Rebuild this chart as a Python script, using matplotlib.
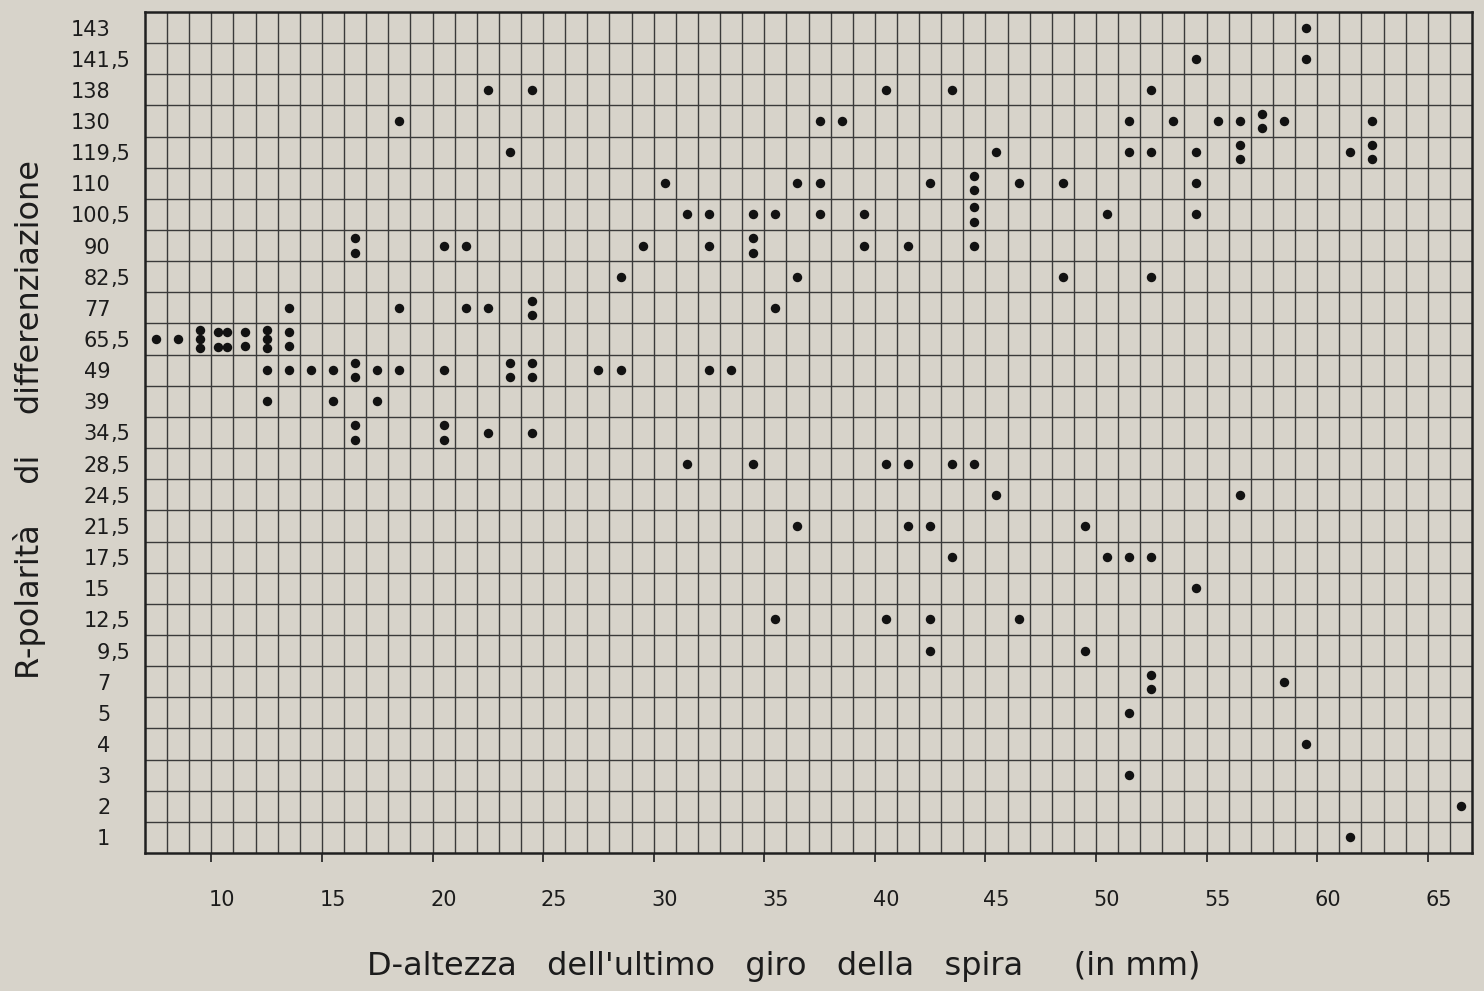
import matplotlib
matplotlib.use('Agg')
import matplotlib.pyplot as plt
from matplotlib.transforms import ScaledTranslation, blended_transform_factory

# categorie dell'asse R, dal basso verso l'alto
r_labels = ['1', '2', '3', '4', '5', '7', '9,5', '12,5', '15', '17,5', '21,5', '24,5',
            '28,5', '34,5', '39', '49', '65,5', '77', '82,5', '90', '100,5', '110',
            '119,5', '130', '138', '141,5', '143']

x_ticks = [10, 15, 20, 25, 30, 35, 40, 45, 50, 55, 60, 65]

# una voce per casella: valore R, colonna D (mm), numero di punti nella casella
dot_r = ['143',
         '141,5', '141,5',
         '138', '138', '138', '138', '138',
         '130', '130', '130', '130', '130', '130', '130', '130', '130', '130',
         '119,5', '119,5', '119,5', '119,5', '119,5', '119,5', '119,5', '119,5',
         '110', '110', '110', '110', '110', '110', '110', '110',
         '100,5', '100,5', '100,5', '100,5', '100,5', '100,5', '100,5', '100,5', '100,5',
         '90', '90', '90', '90', '90', '90', '90', '90', '90',
         '82,5', '82,5', '82,5', '82,5',
         '77', '77', '77', '77', '77', '77',
         '65,5', '65,5', '65,5', '65,5', '65,5', '65,5', '65,5',
         '49', '49', '49', '49', '49', '49', '49', '49', '49', '49', '49', '49', '49', '49',
         '39', '39', '39',
         '34,5', '34,5', '34,5', '34,5',
         '28,5', '28,5', '28,5', '28,5', '28,5', '28,5',
         '24,5', '24,5',
         '21,5', '21,5', '21,5', '21,5',
         '17,5', '17,5', '17,5', '17,5',
         '15',
         '12,5', '12,5', '12,5', '12,5',
         '9,5', '9,5',
         '7', '7',
         '5', '4', '3', '2', '1']
dot_mm = [59,
          54, 59,
          22, 24, 40, 43, 52,
          18, 37, 38, 51, 53, 55, 56, 57, 58, 62,
          23, 45, 51, 52, 54, 56, 61, 62,
          30, 36, 37, 42, 44, 46, 48, 54,
          31, 32, 34, 35, 37, 39, 44, 50, 54,
          16, 20, 21, 29, 32, 34, 39, 41, 44,
          28, 36, 48, 52,
          13, 18, 21, 22, 24, 35,
          7, 8, 9, 10, 11, 12, 13,
          12, 13, 14, 15, 16, 17, 18, 20, 23, 24, 27, 28, 32, 33,
          12, 15, 17,
          16, 20, 22, 24,
          31, 34, 40, 41, 43, 44,
          45, 56,
          36, 41, 42, 49,
          43, 50, 51, 52,
          54,
          35, 40, 42, 46,
          42, 49,
          52, 58,
          51, 59, 51, 66, 61]
dot_n = [1,
         1, 1,
         1, 1, 1, 1, 1,
         1, 1, 1, 1, 1, 1, 1, 2, 1, 1,
         1, 1, 1, 1, 1, 2, 1, 2,
         1, 1, 1, 1, 2, 1, 1, 1,
         1, 1, 1, 1, 1, 1, 2, 1, 1,
         2, 1, 1, 1, 1, 2, 1, 1, 1,
         1, 1, 1, 1,
         1, 1, 1, 1, 2, 1,
         1, 1, 3, 4, 2, 3, 2,
         1, 1, 1, 1, 2, 1, 1, 1, 2, 2, 1, 1, 1, 1,
         1, 1, 1,
         2, 2, 1, 1,
         1, 1, 1, 1, 1, 1,
         1, 1,
         1, 1, 1, 1,
         1, 1, 1, 1,
         1,
         1, 1, 1, 1,
         1, 1,
         2, 1,
         1, 1, 1, 1, 1]

bg = '#d7d3ca'
ink = '#1c1c1c'
grid_c = '#3a3a3a'

# disposizione dei punti dentro una casella
layout = {1: [(0, 0)],
          2: [(0, 0.23), (0, -0.23)],
          3: [(0, 0.3), (0, 0), (0, -0.3)],
          4: [(-0.21, 0.24), (0.21, 0.24), (-0.21, -0.24), (0.21, -0.24)]}

fig = plt.figure(figsize=(14.84, 9.91), dpi=100, facecolor=bg)
ax = fig.add_axes([145/1484, 1 - 853/991, (1472 - 145)/1484, (853 - 12)/991])
ax.set_facecolor(bg)

xs, ys = [], []
for r, mm, n in zip(dot_r, dot_mm, dot_n):
    row = r_labels.index(r)
    for dx, dy in layout[n]:
        xs.append(mm + 0.5 + dx)
        ys.append(row + dy)
ax.plot(xs, ys, 'o', ms=6.8, color='#121212', mew=0, zorder=3)

# quadrettatura
for x in range(8, 67):
    ax.axvline(x, color=grid_c, lw=1.0, zorder=1)
for y in range(len(r_labels) - 1):
    ax.axhline(y + 0.5, color=grid_c, lw=1.0, zorder=1)

ax.set_xlim(7, 67)
ax.set_ylim(-0.5, len(r_labels) - 0.5)
for s in ax.spines.values():
    s.set_linewidth(1.8)
    s.set_color('#202020')

ax.set_xticks(x_ticks)
ax.tick_params(axis='x', length=6.5, width=1.2, direction='out', pad=20,
               labelsize=15, colors=ink)
for lab in ax.get_xticklabels():
    lab.set_transform(lab.get_transform() + ScaledTranslation(0.11, 0, fig.dpi_scale_trans))

# etichette R allineate sulla virgola
ax.set_yticks(range(len(r_labels)))
ax.set_yticklabels([l.split(',')[0] for l in r_labels])
ax.tick_params(axis='y', length=0, pad=25, labelsize=15, colors=ink)
trans = blended_transform_factory(fig.transFigure, ax.transData)
for i, l in enumerate(r_labels):
    if ',' in l:
        ax.text(110/1484, i, ',' + l.split(',')[1], transform=trans, ha='left',
                va='center_baseline', fontsize=15, color=ink)

fig.text(784/1484, 1 - 967/991, "D-altezza   dell'ultimo   giro   della   spira     (in mm)",
         ha='center', va='center', fontsize=23, color=ink)
fig.text(30/1484, 1 - 420/991, 'R-polarità    di    differenziazione', rotation=90,
         ha='center', va='center', fontsize=23, color=ink)

fig.savefig('out.png', dpi=100, facecolor=bg)
